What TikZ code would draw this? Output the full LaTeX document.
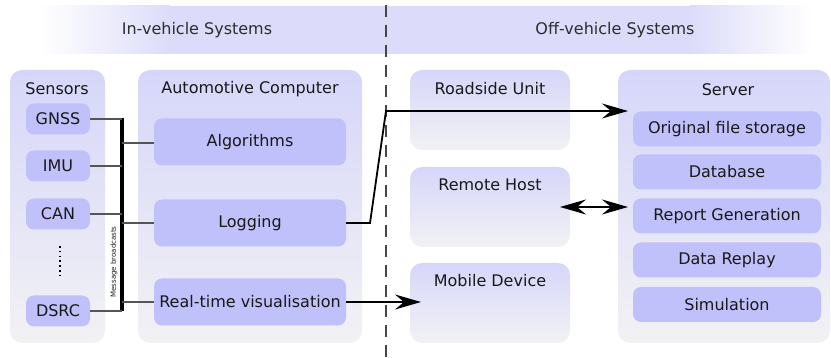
\documentclass[tikz,border=0pt]{standalone}
\usepackage{fontspec}
\setmainfont{DejaVu Sans}
\usetikzlibrary{arrows.meta}
\definecolor{hdr}{RGB}{220,220,250}
\definecolor{contop}{RGB}{214,214,250}
\definecolor{conbot}{RGB}{242,242,244}
\definecolor{boxfill}{RGB}{192,192,250}
\definecolor{txt}{RGB}{25,25,25}
\definecolor{hdrtxt}{RGB}{45,45,45}
\definecolor{wire}{RGB}{85,85,85}
\tikzset{
  container/.style={rectangle, rounded corners=12pt, top color=contop, bottom color=conbot,
    draw=none, inner sep=0pt, outer sep=0pt},
  title/.style={font=\fontsize{16}{18}\selectfont, text=txt, inner sep=0pt},
  unit/.style={rectangle, rounded corners=8pt, fill=boxfill, draw=none, inner sep=0pt,
    outer sep=0pt, font=\fontsize{16}{18}\selectfont, text=txt},
  sensorbox/.style={unit, minimum width=64pt, minimum height=31pt},
  compbox/.style={unit, minimum width=192pt, minimum height=47pt},
  srvbox/.style={unit, minimum width=188pt, minimum height=35pt},
  feed/.style={draw=wire, line width=1.4pt},
  flow/.style={draw=black, line width=1.8pt, -{Stealth[length=26pt,width=15pt,inset=9pt]}},
  twoway/.style={draw=black, line width=1.8pt,
    {Stealth[length=26pt,width=15pt,inset=9pt]}-{Stealth[length=26pt,width=15pt,inset=9pt]}},
}
\begin{document}
\begin{tikzpicture}[x=1pt, y=-1pt]
\useasboundingbox (0,0) rectangle (831,358);

% header band, faded at both ends
\shade[left color=white, right color=hdr, draw=none] (40,6) rectangle (170,54);
\fill[hdr] (169.5,6) rectangle (690.5,54);
\shade[left color=hdr, right color=white, draw=none] (690,6) rectangle (812,54);
\node[title, text=hdrtxt] (hin) at (197,30) {In-vehicle Systems};
\node[title, text=hdrtxt] (hoff) at (615,30) {Off-vehicle Systems};

% containers
\node[container, minimum width=95pt, minimum height=273pt] (sens) at (57.5,206.5) {};
\node[container, minimum width=224pt, minimum height=273pt] (comp) at (250,206.5) {};
\node[container, minimum width=160pt, minimum height=80pt] (rsu) at (490,110) {};
\node[container, minimum width=160pt, minimum height=80pt] (rh) at (490,207) {};
\node[container, minimum width=160pt, minimum height=80pt] (md) at (490,303) {};
\node[container, minimum width=212pt, minimum height=273pt] (srv) at (724,206.5) {};

% container titles
\node[title] (tsens) at (57,89) {Sensors};
\node[title] (tcomp) at (250,89) {Automotive Computer};
\node[title] (trsu) at (490,89) {Roadside Unit};
\node[title] (trh) at (490,185) {Remote Host};
\node[title] (tmd) at (490,281) {Mobile Device};
\node[title] (tsrv) at (728,90) {Server};

% divider between in-vehicle and off-vehicle parts
\coordinate (divtop) at (386,5);
\coordinate (divbot) at (386,358);
\draw[draw={rgb,255:red,70;green,70;blue,70}, line width=1.6pt, dash pattern=on 12pt off 8pt]
  (divtop) -- (divbot);

% sensors
\node[sensorbox] (gnss) at (58,119) {GNSS};
\node[sensorbox] (imu) at (58,166) {IMU};
\node[sensorbox] (can) at (58,214) {CAN};
\node[sensorbox] (dsrc) at (58,311) {DSRC};
\coordinate (dotstop) at (60,246);
\coordinate (dotsbot) at (60,278);
\draw[line width=1.6pt, dash pattern=on 1.6pt off 3.2pt] (dotstop) -- (dotsbot);

% computer units
\node[compbox] (alg) at (250,142) {Algorithms};
\node[compbox] (log) at (250,223) {Logging};
\node[compbox] (rtv) at (250,302) {Real-time visualisation};

% server units
\node[srvbox] (ofs) at (727,129) {Original file storage};
\node[srvbox] (db) at (727,172) {Database};
\node[srvbox] (rep) at (727,216) {Report Generation};
\node[srvbox] (rep2) at (727,260) {Data Replay};
\node[srvbox] (sim) at (727,304.5) {Simulation};

% message bus
\coordinate (bustop) at (121.5,118);
\coordinate (busbot) at (121.5,311);
\draw[line width=4pt] (bustop) -- (busbot);
\node[rotate=90, font=\fontsize{7}{8}\selectfont, text=txt, inner sep=0pt] (buslbl)
  at (114,262) {Message broadcasts};

\draw[feed] (gnss.east) -- (gnss.east -| bustop);
\draw[feed] (imu.east) -- (imu.east -| bustop);
\draw[feed] (can.east) -- (can.east -| bustop);
\draw[feed] (dsrc.east) -- (dsrc.east -| bustop);
\coordinate (balg) at (121.5,143);
\coordinate (blog) at (121.5,223);
\coordinate (brtv) at (121.5,302);
\draw[feed] (balg) -- (balg -| alg.west);
\draw[feed] (blog) -- (blog -| log.west);
\draw[feed] (brtv) -- (brtv -| rtv.west);

% data flows
\coordinate (upload) at (628,111);
\coordinate (rhend) at (560,207);
\coordinate (repend) at (628,207);
\coordinate (mdend) at (421,302);
\draw[flow] (log.east) -- (370,223) -- (386,111) -- (upload);
\draw[twoway] (rhend) -- (repend);
\draw[flow] (rtv.east) -- (mdend);
\end{tikzpicture}
\end{document}
